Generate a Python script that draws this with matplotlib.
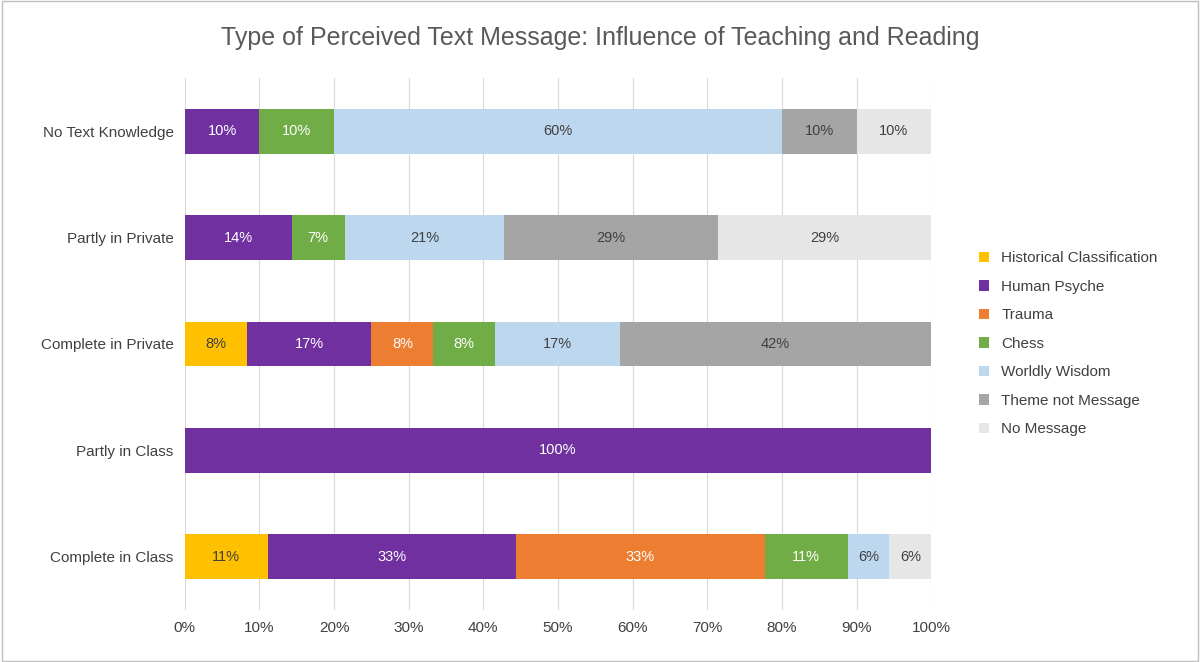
import matplotlib
matplotlib.use('Agg')
import matplotlib.pyplot as plt
import numpy as np

plt.rcParams['font.family'] = ['Liberation Sans', 'DejaVu Sans']

categories = ['Complete in Class', 'Partly in Class', 'Complete in Private', 'Partly in Private', 'No Text Knowledge']
series = ['Historical Classification', 'Human Psyche', 'Trauma', 'Chess', 'Worldly Wisdom', 'Theme not Message', 'No Message']
values = {
    'Historical Classification': [11.1, 0, 8.3, 0, 0],
    'Human Psyche': [33.3, 100, 16.7, 14.3, 10],
    'Trauma': [33.3, 0, 8.3, 0, 0],
    'Chess': [11.1, 0, 8.3, 7.1, 10],
    'Worldly Wisdom': [5.6, 0, 16.7, 21.4, 60],
    'Theme not Message': [0, 0, 41.7, 28.6, 10],
    'No Message': [5.6, 0, 0, 28.6, 10],
}
colors = ['#FFC000', '#7030A0', '#ED7D31', '#70AD47', '#BDD7EE', '#A5A5A5', '#E7E6E6']
text_colors = ['#404040', 'white', 'white', 'white', '#404040', '#404040', '#404040']

fig = plt.figure(figsize=(12, 6.62), dpi=100)
ax = fig.add_axes([0.154, 0.079, 0.622, 0.803])

y = np.arange(len(categories))
left = np.zeros(len(categories))
for s, c, tc in zip(series, colors, text_colors):
    v = np.array(values[s])
    bars = ax.barh(y, v, left=left, height=0.42, color=c, label=s)
    for yi, vi, li in zip(y, v, left):
        if vi > 0:
            ax.text(li + vi / 2, yi, f'{vi:.0f}%', ha='center', va='center', color=tc, fontsize=10.5)
    left += v

ax.set_xlim(0, 100)
ax.set_ylim(-0.5, len(categories) - 0.5)
ax.set_yticks(y)
ax.set_yticklabels(categories, fontsize=11, color='#404040')
ax.set_xticks(np.arange(0, 101, 10))
ax.set_xticklabels([f'{t}%' for t in range(0, 101, 10)], fontsize=11, color='#404040')
ax.grid(axis='x', color='#D9D9D9', linewidth=0.8)
ax.set_axisbelow(True)
for sp in ax.spines.values():
    sp.set_visible(False)
ax.tick_params(length=0, pad=8)

fig.suptitle('Type of Perceived Text Message: Influence of Teaching and Reading', x=0.5, y=0.96,
             fontsize=18, color='#595959')
ax.legend(loc='center left', bbox_to_anchor=(1.045, 0.5), frameon=False, fontsize=11,
          labelcolor='#404040', handlelength=0.7, handleheight=0.7, labelspacing=0.95)

fig.patches.append(plt.Rectangle((0.002, 0.002), 0.996, 0.996, transform=fig.transFigure,
                                 fill=False, edgecolor='#BFBFBF', linewidth=1))
fig.savefig('out.png', dpi=100)
